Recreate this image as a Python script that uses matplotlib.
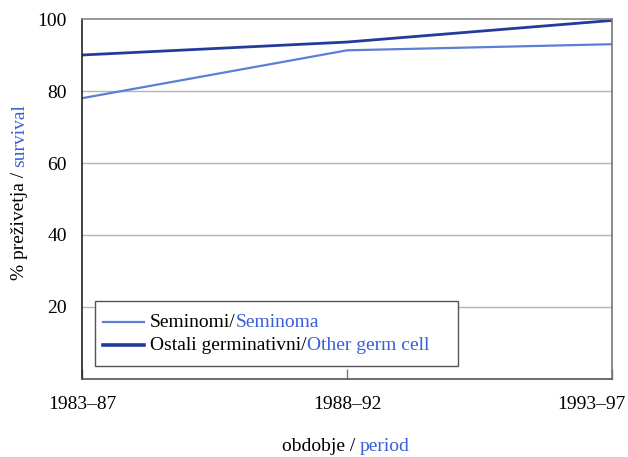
"""Survival of testicular germ cell tumours by diagnosis period."""
import matplotlib.pyplot as plt
from matplotlib.lines import Line2D
from matplotlib.offsetbox import (AnchoredOffsetbox, DrawingArea, HPacker,
                                  TextArea, VPacker)
from matplotlib.transforms import ScaledTranslation

periods = ["1983–87", "1988–92", "1993–97"]
seminoma = [78.0, 91.3, 93.0]
other_germ = [90.0, 93.6, 99.6]
y_ticks = [20, 40, 60, 80, 100]
legend_sl = ["Seminomi/", "Ostali germinativni/"]
legend_en = ["Seminoma", "Other germ cell"]

DARK = "#233c9c"
LIGHT = "#5b7fd4"
ENG = "#3a5fd8"
FS = 14

plt.rcParams["font.family"] = ["Liberation Serif", "DejaVu Serif"]
plt.rcParams["font.size"] = FS

fig = plt.figure(figsize=(6.28, 4.57), dpi=100)
ax = fig.add_axes([0.1306, 0.1707, 0.844, 0.7877])

x = list(range(len(periods)))
ax.plot(x, seminoma, color=LIGHT, linewidth=1.6)
ax.plot(x, other_germ, color=DARK, linewidth=2.0)

for v in y_ticks[:-1]:
    ax.axhline(v, color="#b5b5b5", linewidth=1.0, zorder=0)

ax.set_xlim(0, 2)
ax.set_ylim(0, 100)
ax.set_xticks(x)
ax.set_xticklabels(periods)
ax.set_yticks(y_ticks)
ax.tick_params(axis="x", direction="in", length=7, width=1.0, color="#777777", pad=12)
ax.tick_params(axis="y", length=0, pad=11)

# last period label would run off the figure, so pull it inside
last = ax.get_xticklabels()[-1]
last.set_horizontalalignment("right")
last.set_transform(last.get_transform() + ScaledTranslation(14 / 100, 0, fig.dpi_scale_trans))

ax.spines["left"].set_color("#222222")
ax.spines["bottom"].set_color("#555555")
ax.spines["top"].set_color("#888888")
ax.spines["right"].set_color("#777777")
for s in ax.spines.values():
    s.set_linewidth(1.2)

# legend built by hand so each label can carry two colours
rows = []
for (color, lw), sl, en in zip([(LIGHT, 1.6), (DARK, 2.6)], legend_sl, legend_en):
    da = DrawingArea(30, 10, 0, 0)
    da.add_artist(Line2D([0, 30], [5, 5], color=color, linewidth=lw))
    label = HPacker(children=[TextArea(sl, textprops=dict(color="black", fontsize=FS)),
                              TextArea(en, textprops=dict(color=ENG, fontsize=FS))],
                    sep=0, pad=0, align="baseline")
    rows.append(HPacker(children=[da, label], sep=4, pad=0, align="center"))
entries = VPacker(children=rows, sep=4.4, pad=0, align="left")
entries = HPacker(children=[entries, DrawingArea(15.3, 1, 0, 0)], sep=0, pad=0, align="center")
box = VPacker(children=[DrawingArea(1, 3.5, 0, 0), entries, DrawingArea(1, 3.5, 0, 0)],
              sep=0, pad=0, align="left")
anchored = AnchoredOffsetbox(loc="upper left", child=box, pad=0.4, borderpad=0,
                             frameon=True, bbox_to_anchor=(0.0245, 0.2167),
                             bbox_transform=ax.transAxes)
anchored.patch.set_boxstyle("square", pad=0)
anchored.patch.set_edgecolor("#555555")
anchored.patch.set_linewidth(1.0)
ax.add_artist(anchored)

# axis titles with two colours
fig.text(0.5732, 0.024, "obdobje / ", ha="right", va="center")
fig.text(0.5732, 0.024, "period", ha="left", va="center", color=ENG)

yl = fig.text(0.0318, 0.387, "% preživetja / ", rotation=90, ha="center", va="bottom")
ax.annotate("survival", xy=(0.5, 1), xycoords=yl, rotation=90, ha="center",
            va="bottom", color=ENG)

fig.savefig("out.png", dpi=100)
